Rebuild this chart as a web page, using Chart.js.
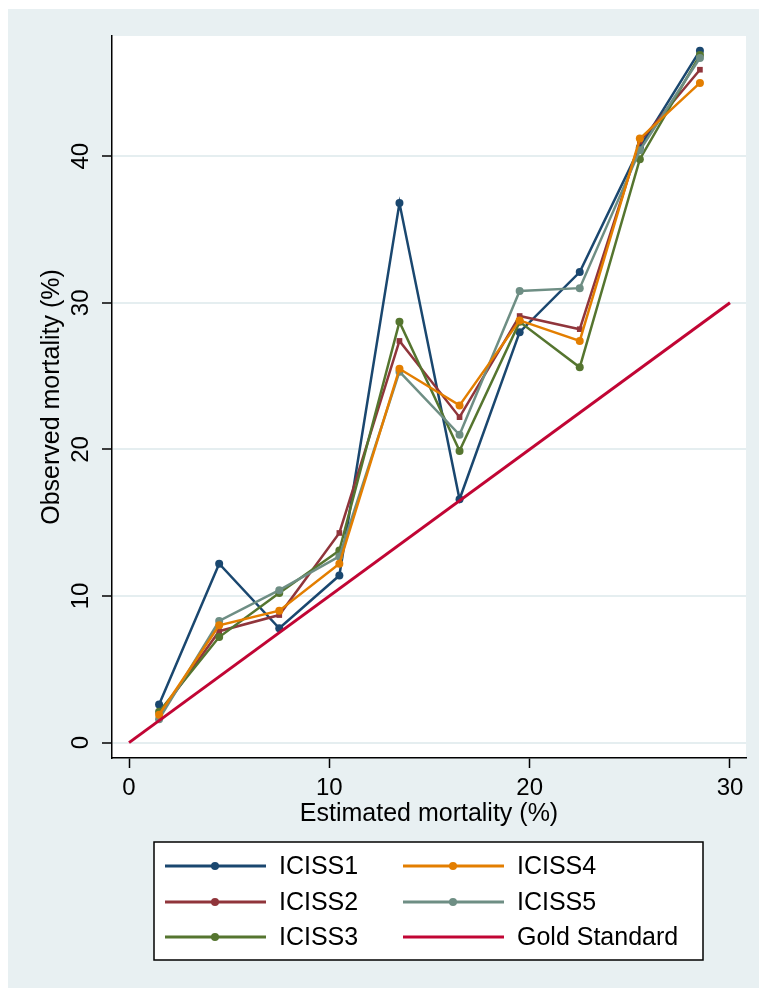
<!DOCTYPE html>
<html>
<head>
<meta charset="utf-8">
<script src="https://cdn.jsdelivr.net/npm/chart.js@4.4.1/dist/chart.umd.min.js"></script>
<style>
html, body { margin: 0; padding: 0; background: #fff; }
</style>
</head>
<body>
<canvas id="myChart" width="759" height="989"></canvas>
<script>
// estimated mortality (%) at each risk group
const estimated = [1.5, 4.5, 7.5, 10.5, 13.5, 16.5, 19.5, 22.5, 25.5, 28.5];

// observed mortality (%) per model
const iciss1 = [2.6, 12.2, 7.8, 11.4, 36.8, 16.6, 28.0, 32.1, 40.6, 47.2];
const iciss2 = [1.9, 7.6, 8.7, 14.3, 27.4, 22.2, 29.1, 28.2, 41.0, 45.9];
const iciss3 = [2.1, 7.2, 10.2, 13.1, 28.7, 19.9, 28.7, 25.6, 39.8, 46.9];
const iciss4 = [1.9, 8.0, 9.0, 12.2, 25.5, 23.0, 28.8, 27.4, 41.2, 45.0];
const iciss5 = [1.6, 8.3, 10.4, 12.7, 25.3, 21.0, 30.8, 31.0, 40.4, 46.7];

// reference line
const goldX = [0, 30];
const goldY = [0, 30];

const xTicks = [0, 10, 20, 30];
const yTicks = [0, 10, 20, 30, 40];

const FONT = '"Liberation Sans", Arial, sans-serif';
const ctx = document.getElementById('myChart').getContext('2d');

function pts(xs, ys) {
    return xs.map((x, i) => ({x: x, y: ys[i]}));
}

function series(label, ys, color, style, order) {
    return {
        label: label,
        data: pts(estimated, ys),
        borderColor: color,
        backgroundColor: color,
        pointBackgroundColor: color,
        pointBorderColor: color,
        pointBorderWidth: 0,
        pointRadius: 4,
        pointStyle: style,
        borderWidth: 2.5,
        tension: 0,
        order: order
    };
}

// grey-blue outer region, white plot region
const backdrop = {
    id: 'backdrop',
    beforeDraw(chart) {
        const c = chart.ctx;
        const a = chart.chartArea;
        c.save();
        c.fillStyle = '#ffffff';
        c.fillRect(0, 0, chart.width, chart.height);
        c.fillStyle = '#e8f0f2';
        c.fillRect(8, 9, chart.width - 8, chart.height - 10);
        c.fillStyle = '#ffffff';
        c.fillRect(a.left, a.top, a.right - a.left, a.bottom - a.top);
        c.restore();
    }
};

// boxed legend, two columns filled top to bottom
const stataLegend = {
    id: 'stataLegend',
    afterDraw(chart) {
        const c = chart.ctx;
        const sets = chart.data.datasets;
        c.save();
        c.fillStyle = '#ffffff';
        c.fillRect(154, 842, 549, 118);
        c.strokeStyle = '#000000';
        c.lineWidth = 1.5;
        c.strokeRect(154, 842, 549, 118);
        const cols = [165, 403];
        const rows = [866, 902, 937];
        c.font = '25px ' + FONT;
        c.textBaseline = 'middle';
        c.textAlign = 'left';
        sets.forEach((ds, i) => {
            const x0 = cols[Math.floor(i / 3)];
            const y = rows[i % 3];
            c.strokeStyle = ds.borderColor;
            c.lineWidth = 3;
            c.beginPath();
            c.moveTo(x0, y);
            c.lineTo(x0 + 101, y);
            c.stroke();
            if (ds.pointRadius > 0) {
                c.fillStyle = ds.borderColor;
                c.beginPath();
                c.arc(x0 + 50, y, 4, 0, Math.PI * 2);
                c.fill();
            }
            c.fillStyle = '#000000';
            c.fillText(ds.label, x0 + 114, y + 1);
        });
        c.restore();
    }
};

const myChart = new Chart(ctx, {
    type: 'line',
    data: {
        datasets: [
            series('ICISS1', iciss1, '#1a476f', 'circle', 6),
            series('ICISS2', iciss2, '#90353b', 'rect', 5),
            series('ICISS3', iciss3, '#55752f', 'circle', 4),
            series('ICISS4', iciss4, '#e37e00', 'circle', 2),
            series('ICISS5', iciss5, '#6e8e84', 'circle', 3),
            {
                label: 'Gold Standard',
                data: pts(goldX, goldY),
                borderColor: '#c10534',
                backgroundColor: '#c10534',
                borderWidth: 3,
                pointRadius: 0,
                order: 1
            }
        ]
    },
    options: {
        responsive: false,
        animation: false,
        layout: {padding: {top: 36, right: 13, bottom: 0, left: 0}},
        plugins: {
            legend: {display: false},
            tooltip: {enabled: false}
        },
        scales: {
            x: {
                type: 'linear',
                min: -0.85,
                max: 30.8,
                afterBuildTicks: s => { s.ticks = xTicks.map(v => ({value: v})); },
                afterFit: s => { s.height = 231; },
                grid: {drawOnChartArea: false, drawTicks: true, tickLength: 10, tickColor: '#000', tickWidth: 1.5},
                border: {display: true, color: '#000', width: 1.5},
                ticks: {color: '#000', font: {family: FONT, size: 24}, padding: 6, maxRotation: 0},
                title: {
                    display: true,
                    text: 'Estimated mortality (%)',
                    color: '#000',
                    font: {family: FONT, size: 25},
                    padding: {top: 0, bottom: 160}
                }
            },
            y: {
                type: 'linear',
                min: -1.05,
                max: 48.2,
                afterBuildTicks: s => { s.ticks = yTicks.map(v => ({value: v})); },
                afterFit: s => { s.width = 112; },
                grid: {color: '#e5eef0', lineWidth: 2, tickLength: 10, tickColor: '#000', tickWidth: 1.5},
                border: {display: true, color: '#000', width: 1.5},
                ticks: {color: '#000', font: {family: FONT, size: 24}, padding: 7.5, minRotation: 90, maxRotation: 90, crossAlign: 'center'},
                title: {
                    display: true,
                    text: 'Observed mortality (%)',
                    color: '#000',
                    font: {family: FONT, size: 25},
                    padding: {top: 37, bottom: 0}
                }
            }
        }
    },
    plugins: [backdrop, stataLegend]
});
</script>
</body>
</html>
